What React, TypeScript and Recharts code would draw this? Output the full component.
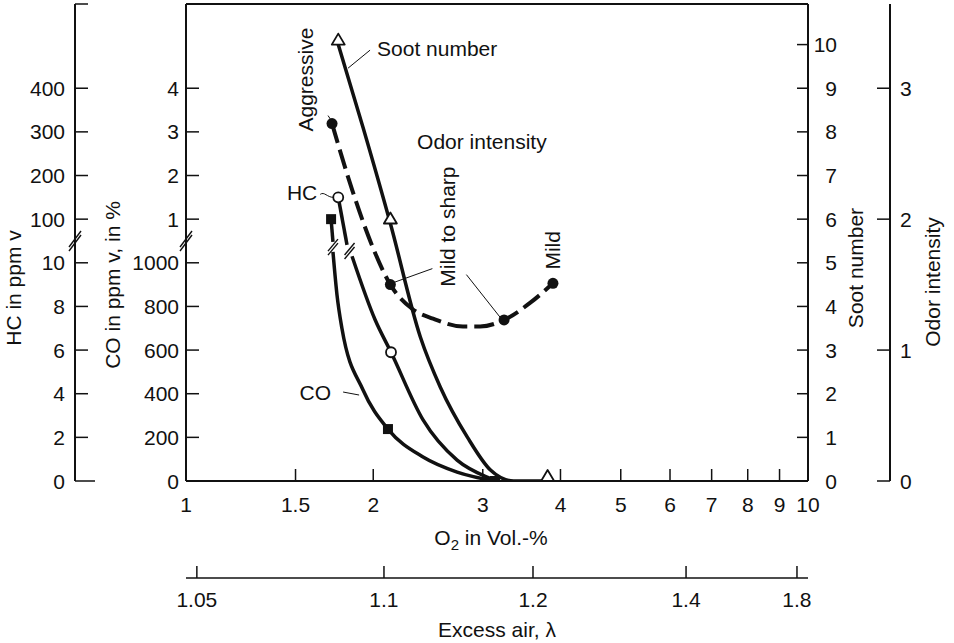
import React from "react";
import {
  ComposedChart,
  Line,
  XAxis,
  YAxis,
  ReferenceLine,
  ReferenceDot,
} from "recharts";

const FONT = '"Liberation Sans", Arial, Helvetica, sans-serif';
const INK = "#111";
const FS = 21;

// left scales share one "step" scale: 0..5 below the break, 6..9 above it
const Y_MAX = 10.93;
const ODOR_MAX = Y_MAX / 3;

const o2Ticks = [1, 1.5, 2, 3, 4, 5, 6, 7, 8, 9, 10];
const lambdaLabels = ["1.05", "1.1", "1.2", "1.4", "1.8"];
const lambdaAtO2 = [1.041, 2.081, 3.613, 6.367, 9.6]; // where each lambda tick sits on the O2 scale

const coTicks = [0, 1, 2, 3, 4, 5, 5.5, 6, 7, 8, 9];
const coLabels = ["0", "200", "400", "600", "800", "1000", "", "1", "2", "3", "4"];
const hcTicks = [0, 1, 2, 3, 4, 5, 5.5, 6, 7, 8, 9, Y_MAX];
const hcLabels = ["0", "2", "4", "6", "8", "10", "", "100", "200", "300", "400", ""];
const sootTicks = [0, 1, 2, 3, 4, 5, 6, 7, 8, 9, 10];
const odorTicks = [0, 1, 2, 3];

// soot number (open triangles)
const sootO2 = [1.757, 1.926, 2.131, 2.381, 2.564, 2.835, 3.087, 3.363, 3.814];
const sootNumber = [10.0, 8.1, 5.9, 3.3, 2.15, 1.0, 0.25, 0, 0];
const sootMarked = [1, 0, 1, 0, 0, 0, 0, 0, 1];

// odor intensity (filled circles, dashed)
const odorO2 = [1.717, 1.851, 1.983, 2.131, 2.317, 2.495, 2.788, 2.97, 3.246, 3.573, 3.89];
const odorIntensity = [2.73, 2.22, 1.82, 1.5, 1.31, 1.24, 1.18, 1.18, 1.23, 1.36, 1.51];
const odorMarked = [1, 0, 0, 1, 0, 0, 0, 0, 1, 0, 1];

// HC in ppm (open circles) - above and below the axis break
const hcHighO2 = [1.757, 1.815];
const hcHighPpm = [150, 41];
const hcHighMarked = [1, 0];
const hcLowO2 = [1.849, 2.013, 2.136, 2.405, 2.728, 3.048, 3.162];
const hcLowPpm = [10.3, 7.4, 5.9, 2.8, 0.96, 0.18, 0];
const hcLowMarked = [0, 0, 1, 0, 0, 0, 0];

// CO (filled squares) - % above the break, ppm below
const coHighO2 = [1.711, 1.723];
const coHighPct = [1.0, 0.48];
const coHighMarked = [1, 0];
const coLowO2 = [1.723, 1.749, 1.781, 1.926, 2.112, 2.405, 2.728, 3.139];
const coLowPpm = [1050, 852, 700, 417, 238, 110, 41, 0];
const coLowMarked = [0, 0, 0, 0, 1, 0, 0, 1];

const hcHighToStep = (v: number) => 5 + v / 100;
const hcLowToStep = (v: number) => v / 2;
const coPctToStep = (v: number) => 5 + v;
const coPpmToStep = (v: number) => v / 200;

const build = (xs: number[], ys: number[], marks: number[], f = (v: number) => v) =>
  xs.map((x, i) => ({ x, y: f(ys[i]), mark: marks[i] === 1 }));

const sootData = build(sootO2, sootNumber, sootMarked);
const odorData = build(odorO2, odorIntensity, odorMarked);
const hcHighData = build(hcHighO2, hcHighPpm, hcHighMarked, hcHighToStep);
const hcLowData = build(hcLowO2, hcLowPpm, hcLowMarked, hcLowToStep);
const coHighData = build(coHighO2, coHighPct, coHighMarked, coPctToStep);
const coLowData = build(coLowO2, coLowPpm, coLowMarked, coPpmToStep);

// axis ids: recharts stacks same-side axes in id order, nearest the plot first
const X_O2 = "a_o2";
const X_LAMBDA = "b_lambda";
const Y_CO = "a_co";
const Y_HC = "b_hc";
const Y_SOOT = "a_soot";
const Y_ODOR = "b_odor";

const txt = { fontFamily: FONT, fontSize: FS, fill: INK };
const axisStyle = { stroke: INK, strokeWidth: 2 };

const makeDot = (kind: string) => (props: any) => {
  const { cx, cy, payload, index } = props;
  const key = `${kind}-${index}`;
  if (!payload || !payload.mark || cx == null || cy == null) return <g key={key} />;
  if (kind === "square")
    return <rect key={key} x={cx - 5} y={cy - 5} width={10} height={10} fill={INK} />;
  if (kind === "open")
    return <circle key={key} cx={cx} cy={cy} r={5} fill="#fff" stroke={INK} strokeWidth={1.8} />;
  if (kind === "tri")
    return (
      <path
        key={key}
        d={`M${cx},${cy - 11} L${cx + 6.5},${cy} L${cx - 6.5},${cy} Z`}
        fill="#fff"
        stroke={INK}
        strokeWidth={1.8}
        strokeLinejoin="round"
      />
    );
  return <circle key={key} cx={cx} cy={cy} r={5.5} fill={INK} />;
};

const BreakMark = ({ x, y, w = 6, h = 8 }: any) => (
  <g stroke={INK} strokeWidth={1.4}>
    <line x1={x - w} y1={y + h - 2} x2={x + w} y2={y - h - 2} />
    <line x1={x - w} y1={y + h + 2} x2={x + w} y2={y - h + 2} />
  </g>
);

function CoTick(props: any) {
  const { x, y, payload } = props;
  const v = payload.value;
  if (v === 5.5) return <BreakMark x={x} y={y} />;
  return (
    <g>
      <line x1={x} y1={y} x2={x + 13} y2={y} stroke={INK} strokeWidth={1.5} />
      <text x={x - 7} y={y} dy="0.36em" textAnchor="end" {...txt}>
        {coLabels[coTicks.indexOf(v)]}
      </text>
    </g>
  );
}

function HcTick(props: any) {
  const { x, y, payload } = props;
  const v = payload.value;
  if (v === 5.5) return <BreakMark x={x} y={y} />;
  return (
    <g>
      <line x1={x} y1={y} x2={x + (v === 0 ? 20 : 13)} y2={y} stroke={INK} strokeWidth={1.5} />
      <text x={x - 10} y={y} dy="0.36em" textAnchor="end" {...txt}>
        {hcLabels[hcTicks.indexOf(v)]}
      </text>
    </g>
  );
}

function SootTick(props: any) {
  const { x, y, payload } = props;
  return (
    <g>
      <line x1={x - 11} y1={y} x2={x} y2={y} stroke={INK} strokeWidth={1.5} />
      <text x={x + 29} y={y} dy="0.36em" textAnchor="end" {...txt}>
        {payload.value}
      </text>
    </g>
  );
}

function OdorTick(props: any) {
  const { x, y, payload } = props;
  return (
    <g>
      <line x1={x - 13} y1={y} x2={x} y2={y} stroke={INK} strokeWidth={1.5} />
      <text x={x + 10} y={y} dy="0.36em" textAnchor="start" {...txt}>
        {payload.value}
      </text>
    </g>
  );
}

function O2Tick(props: any) {
  const { x, y, payload } = props;
  return (
    <g>
      <line x1={x} y1={y} x2={x} y2={y - 12} stroke={INK} strokeWidth={1.5} />
      <text x={x} y={y + 31} textAnchor="middle" {...txt}>
        {payload.value}
      </text>
    </g>
  );
}

function LambdaTick(props: any) {
  const { x, y, payload } = props;
  const i = lambdaAtO2.indexOf(payload.value);
  return (
    <g>
      <line x1={x} y1={y} x2={x} y2={y - 12} stroke={INK} strokeWidth={1.5} />
      <text x={x} y={y + 29} textAnchor="middle" {...txt}>
        {lambdaLabels[i]}
      </text>
    </g>
  );
}

const yTitle = (text: string, dx: number, dy: number) => (props: any) => {
  const vb = props.viewBox || { x: 0, y: 0 };
  return (
    <text
      transform={`translate(${vb.x + dx},${vb.y + dy}) rotate(-90)`}
      textAnchor="middle"
      {...txt}
    >
      {text}
    </text>
  );
};

const O2Title = (props: any) => {
  const vb = props.viewBox || { x: 0, y: 0, width: 0 };
  return (
    <text x={vb.x + vb.width / 2 - 6} y={vb.y + 64} textAnchor="middle" {...txt}>
      O<tspan fontSize={15} dy={5}>2</tspan>
      <tspan dy={-5}> in Vol.-%</tspan>
    </text>
  );
};

const LambdaTitle = (props: any) => {
  const vb = props.viewBox || { x: 0, y: 0, width: 0 };
  return (
    <text x={vb.x + vb.width / 2} y={vb.y + 59} textAnchor="middle" {...txt}>
      Excess air, λ
    </text>
  );
};

const note = (draw: (cx: number, cy: number) => React.ReactNode) => (p: any) =>
  <g>{draw(p.cx, p.cy)}</g>;

const thin = { stroke: INK, strokeWidth: 1 };

export default function App() {
  return (
    <div style={{ position: "absolute", left: 0, top: 0, width: 954, height: 643, background: "#fff" }}>
      <ComposedChart width={954} height={643} margin={{ top: 4, right: 0, bottom: 0, left: 0 }}>
        <XAxis
          xAxisId={X_O2}
          dataKey="x"
          type="number"
          scale="log"
          domain={[1, 10]}
          allowDataOverflow
          ticks={o2Ticks}
          interval={0}
          tickSize={0}
          tickMargin={0}
          tickLine={false}
          tick={(p: any) => <O2Tick {...p} />}
          axisLine={axisStyle}
          height={97}
          label={{ content: O2Title }}
        />
        <XAxis
          xAxisId={X_LAMBDA}
          dataKey="x"
          type="number"
          scale="log"
          domain={[1, 10]}
          allowDataOverflow
          ticks={lambdaAtO2}
          interval={0}
          tickSize={0}
          tickMargin={0}
          tickLine={false}
          tick={(p: any) => <LambdaTick {...p} />}
          axisLine={{ stroke: INK, strokeWidth: 1.5 }}
          height={65}
          label={{ content: LambdaTitle }}
        />
        <YAxis
          yAxisId={Y_CO}
          orientation="left"
          type="number"
          width={111}
          domain={[0, Y_MAX]}
          allowDataOverflow
          ticks={coTicks}
          interval={0}
          tickSize={0}
          tickMargin={0}
          tickLine={false}
          tick={(p: any) => <CoTick {...p} />}
          axisLine={axisStyle}
          label={{ content: yTitle("CO in ppm v, in %", 45, 281) }}
        />
        <YAxis
          yAxisId={Y_HC}
          orientation="left"
          type="number"
          width={75}
          domain={[0, Y_MAX]}
          allowDataOverflow
          ticks={hcTicks}
          interval={0}
          tickSize={0}
          tickMargin={0}
          tickLine={false}
          tick={(p: any) => <HcTick {...p} />}
          axisLine={axisStyle}
          label={{ content: yTitle("HC in ppm v", 21, 284) }}
        />
        <YAxis
          yAxisId={Y_SOOT}
          orientation="right"
          type="number"
          width={82}
          domain={[0, Y_MAX]}
          allowDataOverflow
          ticks={sootTicks}
          interval={0}
          tickSize={0}
          tickMargin={0}
          tickLine={false}
          tick={(p: any) => <SootTick {...p} />}
          axisLine={axisStyle}
          label={{ content: yTitle("Soot number", 55, 264) }}
        />
        <YAxis
          yAxisId={Y_ODOR}
          orientation="right"
          type="number"
          width={64}
          domain={[0, ODOR_MAX]}
          allowDataOverflow
          ticks={odorTicks}
          interval={0}
          tickSize={0}
          tickMargin={0}
          tickLine={false}
          tick={(p: any) => <OdorTick {...p} />}
          axisLine={axisStyle}
          label={{ content: yTitle("Odor intensity", 50, 278) }}
        />

        {/* top edge of the plot frame */}
        <ReferenceLine xAxisId={X_O2} yAxisId={Y_SOOT} y={Y_MAX} stroke={INK} strokeWidth={2} ifOverflow="visible" />

        <Line
          xAxisId={X_O2}
          yAxisId={Y_ODOR}
          data={odorData}
          dataKey="y"
          type="monotone"
          stroke={INK}
          strokeWidth={4}
          strokeDasharray="20 7"
          dot={makeDot("filled")}
          activeDot={false}
          isAnimationActive={false}
        />
        <Line
          xAxisId={X_O2}
          yAxisId={Y_SOOT}
          data={sootData}
          dataKey="y"
          type="monotone"
          stroke={INK}
          strokeWidth={3.5}
          dot={makeDot("tri")}
          activeDot={false}
          isAnimationActive={false}
        />
        <Line
          xAxisId={X_O2}
          yAxisId={Y_HC}
          data={hcHighData}
          dataKey="y"
          type="monotone"
          stroke={INK}
          strokeWidth={3.5}
          dot={makeDot("open")}
          activeDot={false}
          isAnimationActive={false}
        />
        <Line
          xAxisId={X_O2}
          yAxisId={Y_HC}
          data={hcLowData}
          dataKey="y"
          type="monotone"
          stroke={INK}
          strokeWidth={3.5}
          dot={makeDot("open")}
          activeDot={false}
          isAnimationActive={false}
        />
        <Line
          xAxisId={X_O2}
          yAxisId={Y_CO}
          data={coHighData}
          dataKey="y"
          type="monotone"
          stroke={INK}
          strokeWidth={3.5}
          dot={makeDot("square")}
          activeDot={false}
          isAnimationActive={false}
        />
        <Line
          xAxisId={X_O2}
          yAxisId={Y_CO}
          data={coLowData}
          dataKey="y"
          type="monotone"
          stroke={INK}
          strokeWidth={3.5}
          dot={makeDot("square")}
          activeDot={false}
          isAnimationActive={false}
        />

        {/* breaks drawn across the CO and HC curves */}
        <ReferenceDot xAxisId={X_O2} yAxisId={Y_CO} x={1.723} y={5.36} ifOverflow="visible"
          shape={(p: any) => <BreakMark x={p.cx} y={p.cy} w={5} h={6} />} />
        <ReferenceDot xAxisId={X_O2} yAxisId={Y_HC} x={1.832} y={5.27} ifOverflow="visible"
          shape={(p: any) => <BreakMark x={p.cx} y={p.cy} w={5} h={6} />} />

        {/* annotations */}
        <ReferenceDot xAxisId={X_O2} yAxisId={Y_SOOT} x={1.822} y={9.46} ifOverflow="visible"
          shape={note((cx, cy) => (
            <>
              <line x1={cx} y1={cy} x2={cx + 22} y2={cy - 18} {...thin} />
              <text x={cx + 29} y={cy - 12} {...txt}>Soot number</text>
            </>
          ))} />
        <ReferenceDot xAxisId={X_O2} yAxisId={Y_ODOR} x={1.717} y={2.73} ifOverflow="visible"
          shape={note((cx, cy) => (
            <>
              <line x1={cx - 4} y1={cy - 8} x2={cx} y2={cy - 2} {...thin} />
              <text transform={`translate(${cx - 19},${cy - 44}) rotate(-90)`} textAnchor="middle" {...txt}>
                Aggressive
              </text>
            </>
          ))} />
        <ReferenceDot xAxisId={X_O2} yAxisId={Y_SOOT} x={2.99} y={7.77} ifOverflow="visible"
          shape={note((cx, cy) => (
            <text x={cx} y={cy + 7.5} textAnchor="middle" {...txt}>Odor intensity</text>
          ))} />
        <ReferenceDot xAxisId={X_O2} yAxisId={Y_HC} x={1.757} y={6.5} ifOverflow="visible"
          shape={note((cx, cy) => (
            <>
              <path d={`M${cx - 18},${cy - 3} C${cx - 14},${cy - 6} ${cx - 11},${cy} ${cx - 5},${cy}`} fill="none" {...thin} />
              <text x={cx - 21} y={cy + 2.5} textAnchor="end" {...txt}>HC</text>
            </>
          ))} />
        <ReferenceDot xAxisId={X_O2} yAxisId={Y_CO} x={1.905} y={1.97} ifOverflow="visible"
          shape={note((cx, cy) => (
            <>
              <line x1={cx - 17} y1={cy - 3} x2={cx - 1} y2={cy} {...thin} />
              <text x={cx - 29} y={cy + 4.5} textAnchor="end" {...txt}>CO</text>
            </>
          ))} />
        <ReferenceDot xAxisId={X_O2} yAxisId={Y_ODOR} x={2.131} y={1.5} ifOverflow="visible"
          shape={note((cx, cy) => (
            <>
              <line x1={cx + 42} y1={cy - 16} x2={cx + 3} y2={cy - 2} {...thin} />
              <line x1={cx + 76} y1={cy - 10} x2={cx + 110} y2={cy + 33} {...thin} />
              <text transform={`translate(${cx + 65},${cy - 58}) rotate(-90)`} textAnchor="middle" {...txt}>
                Mild to sharp
              </text>
            </>
          ))} />
        <ReferenceDot xAxisId={X_O2} yAxisId={Y_ODOR} x={3.89} y={1.51} ifOverflow="visible"
          shape={note((cx, cy) => (
            <text transform={`translate(${cx + 7},${cy - 33}) rotate(-90)`} textAnchor="middle" {...txt}>
              Mild
            </text>
          ))} />
      </ComposedChart>
    </div>
  );
}
